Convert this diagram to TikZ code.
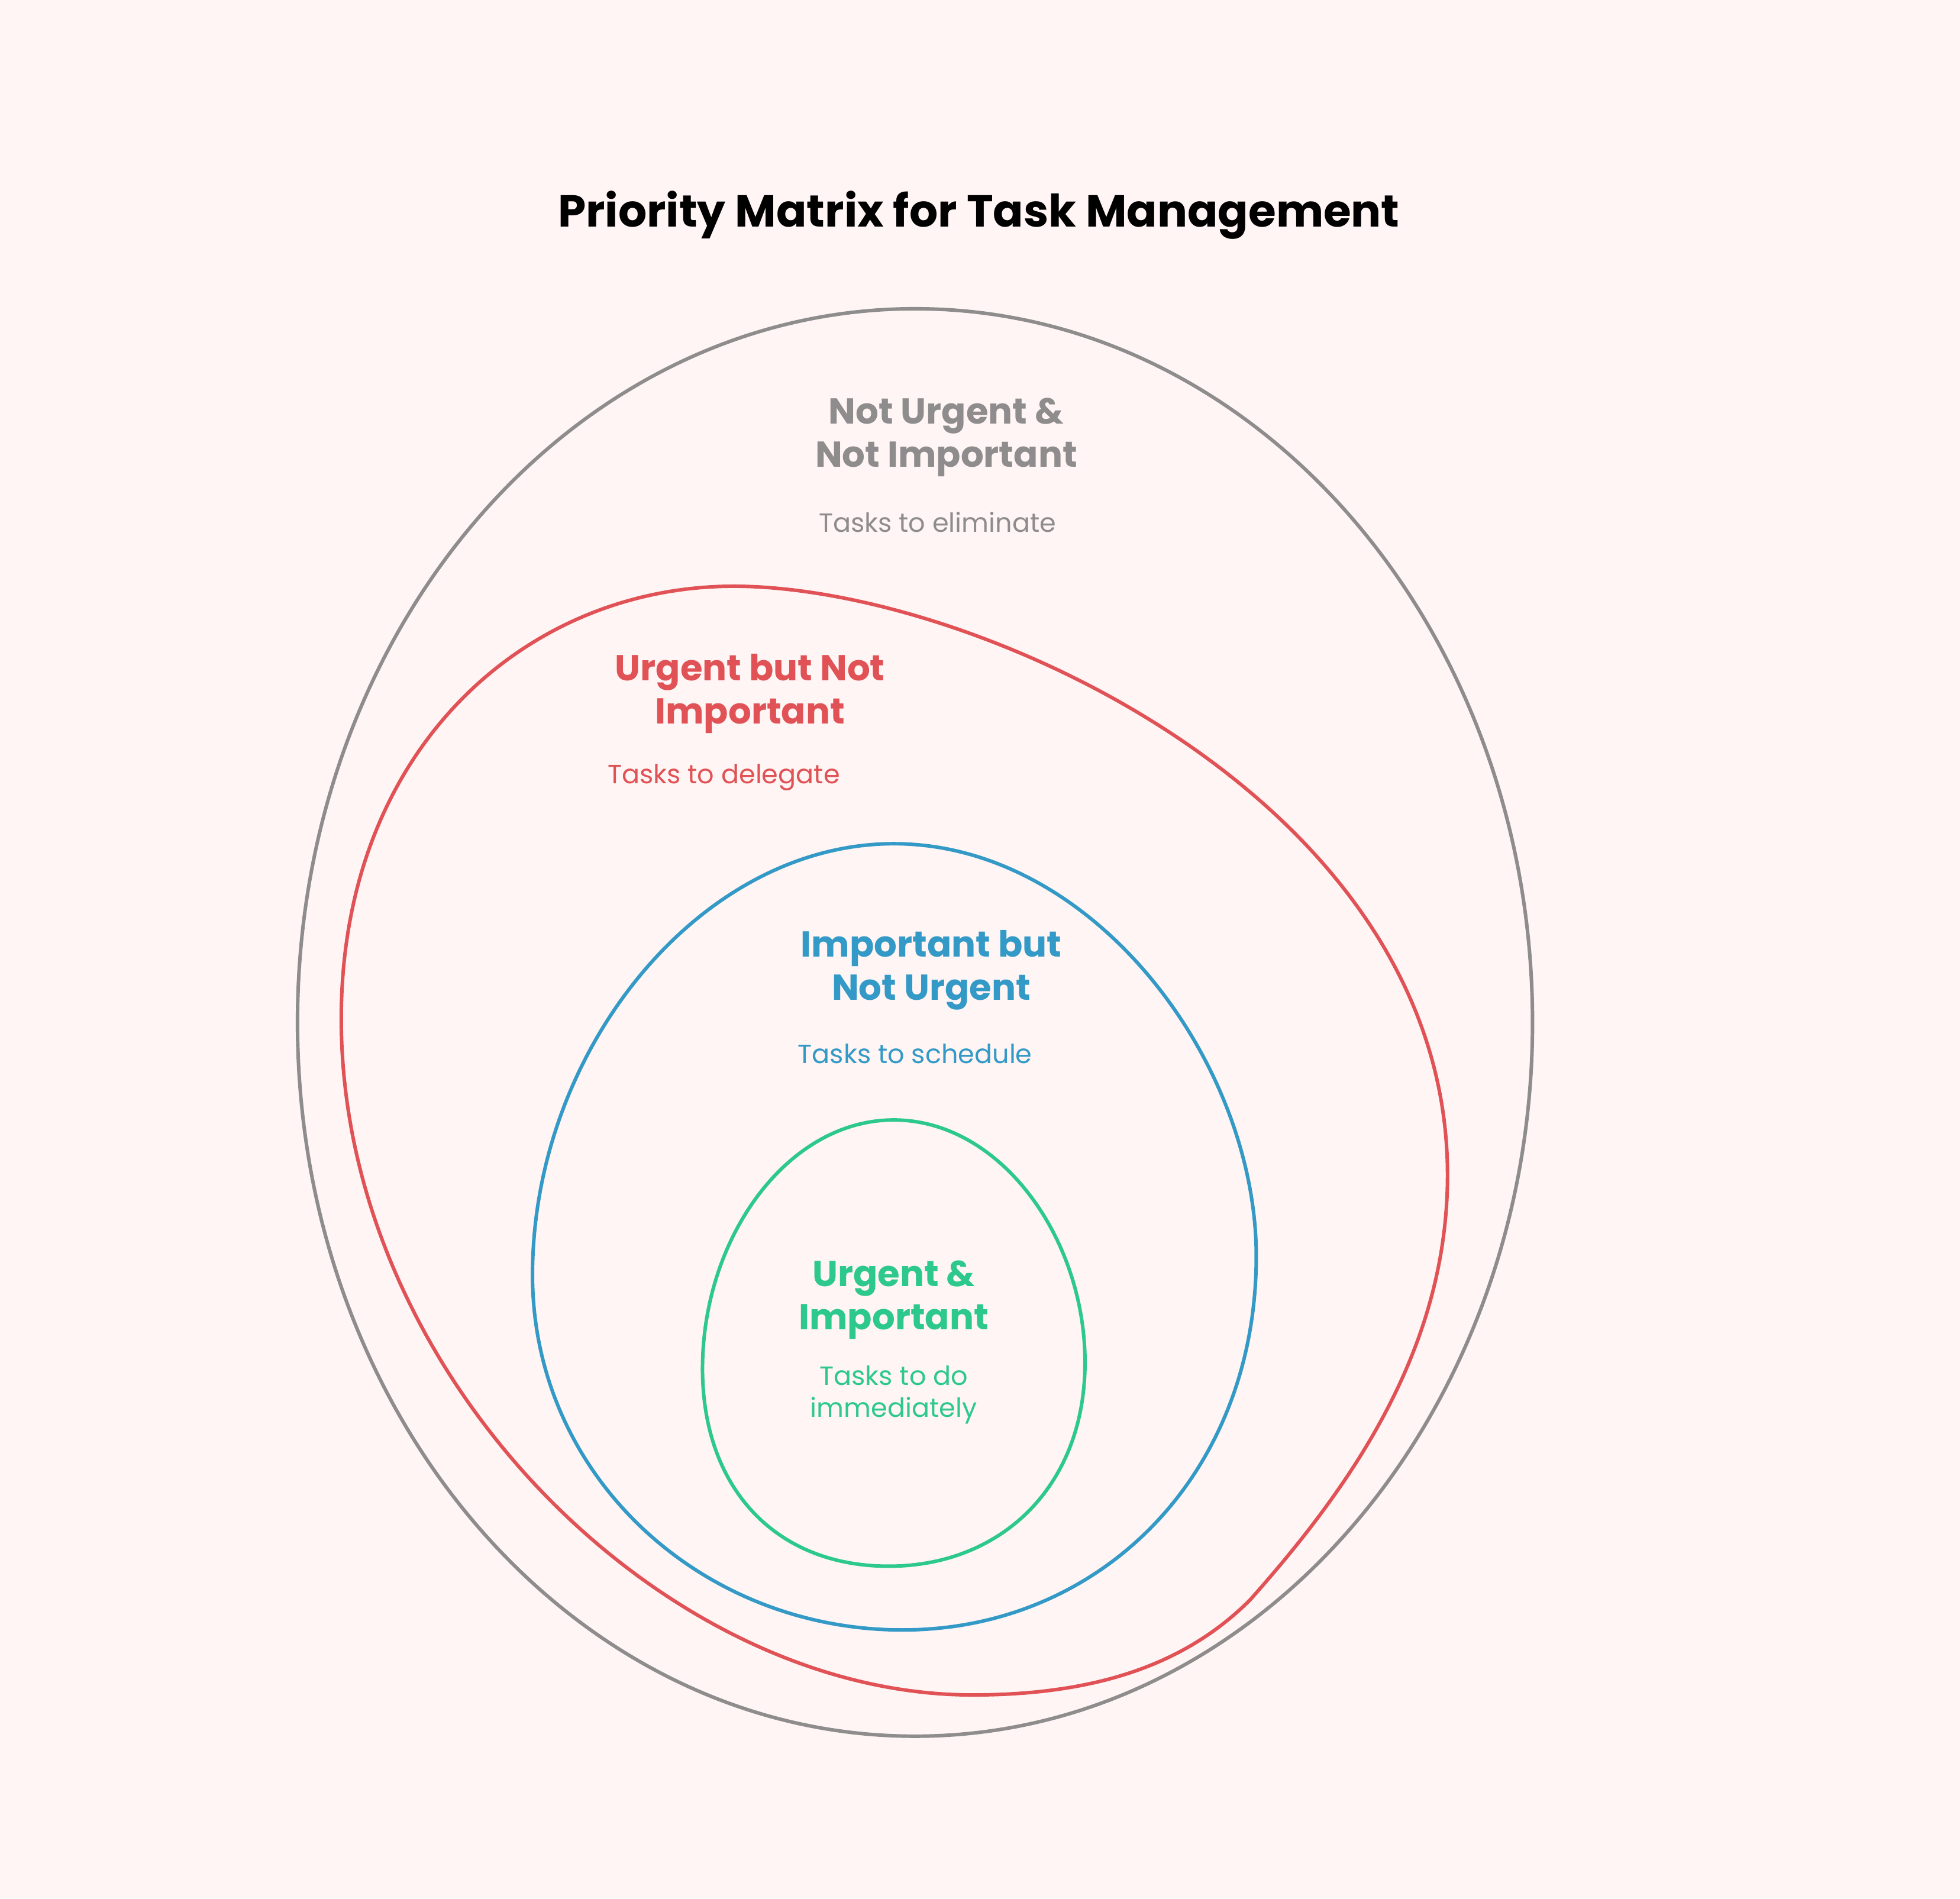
\documentclass[tikz,border=0pt]{standalone}
\usepackage{fontspec}
\setmainfont{Poppins}
\usetikzlibrary{positioning}
\definecolor{bgpink}{HTML}{FFF5F4}
\definecolor{elimgray}{HTML}{8E8C8C}
\definecolor{delegred}{HTML}{E05256}
\definecolor{schedblue}{HTML}{3399C6}
\definecolor{dogreen}{HTML}{2DC98C}
\begin{document}
\begin{tikzpicture}[
	x=0.025cm, y=-0.025cm,
	ring/.style={line width=2pt},
	head/.style={align=center, font=\fontsize{20.5}{24.5}\selectfont\bfseries},
	note/.style={align=center, font=\fontsize{15}{18}\selectfont}
]
\fill[bgpink] (0,0) rectangle (1568,1519);
\useasboundingbox (0,0) rectangle (1568,1519);
\node[font=\fontsize{25.5}{30}\selectfont\bfseries] (title) at (783,172) {Priority Matrix for Task Management};
% outer ring
\draw[ring, elimgray] (732,818) ellipse [x radius=494, y radius=571];
\node[head, text=elimgray] (elimhead) at (757,350) {Not Urgent \&\\Not Important};
\node[note, text=elimgray] (elimnote) at (750,418) {Tasks to eliminate};
% delegate ring
\draw[ring, delegred] (587,469) .. controls (420,469) and (273,600) .. (273,815)
	.. controls (273,1100) and (530,1356) .. (778,1356)
	.. controls (880,1356) and (950,1330) .. (1000,1280)
	.. controls (1080,1190) and (1158,1080) .. (1158,940)
	.. controls (1158,640) and (780,469) .. cycle;
\node[head, text=delegred] (deleghead) at (600,555) {Urgent but Not\\Important};
\node[note, text=delegred] (delegnote) at (579,622) {Tasks to delegate};
% schedule ring
\draw[ring, schedblue] (715,675) .. controls (875,675) and (1005,850) .. (1005,1005)
	.. controls (1005,1180) and (880,1304) .. (722,1304)
	.. controls (560,1304) and (426,1180) .. (426,1020)
	.. controls (426,840) and (560,675) .. cycle;
\node[head, text=schedblue] (schedhead) at (745,776) {Important but\\Not Urgent};
\node[note, text=schedblue] (schednote) at (732,843) {Tasks to schedule};
% do ring
\draw[ring, dogreen] (715,896) .. controls (800,896) and (868,990) .. (868,1090)
	.. controls (868,1190) and (800,1253) .. (711,1253)
	.. controls (620,1253) and (562,1190) .. (562,1095)
	.. controls (562,990) and (630,896) .. cycle;
\node[head, text=dogreen] (dohead) at (715,1040) {Urgent \&\\Important};
\node[note, text=dogreen] (donote) at (715,1116) {Tasks to do\\immediately};
\end{tikzpicture}
\end{document}
